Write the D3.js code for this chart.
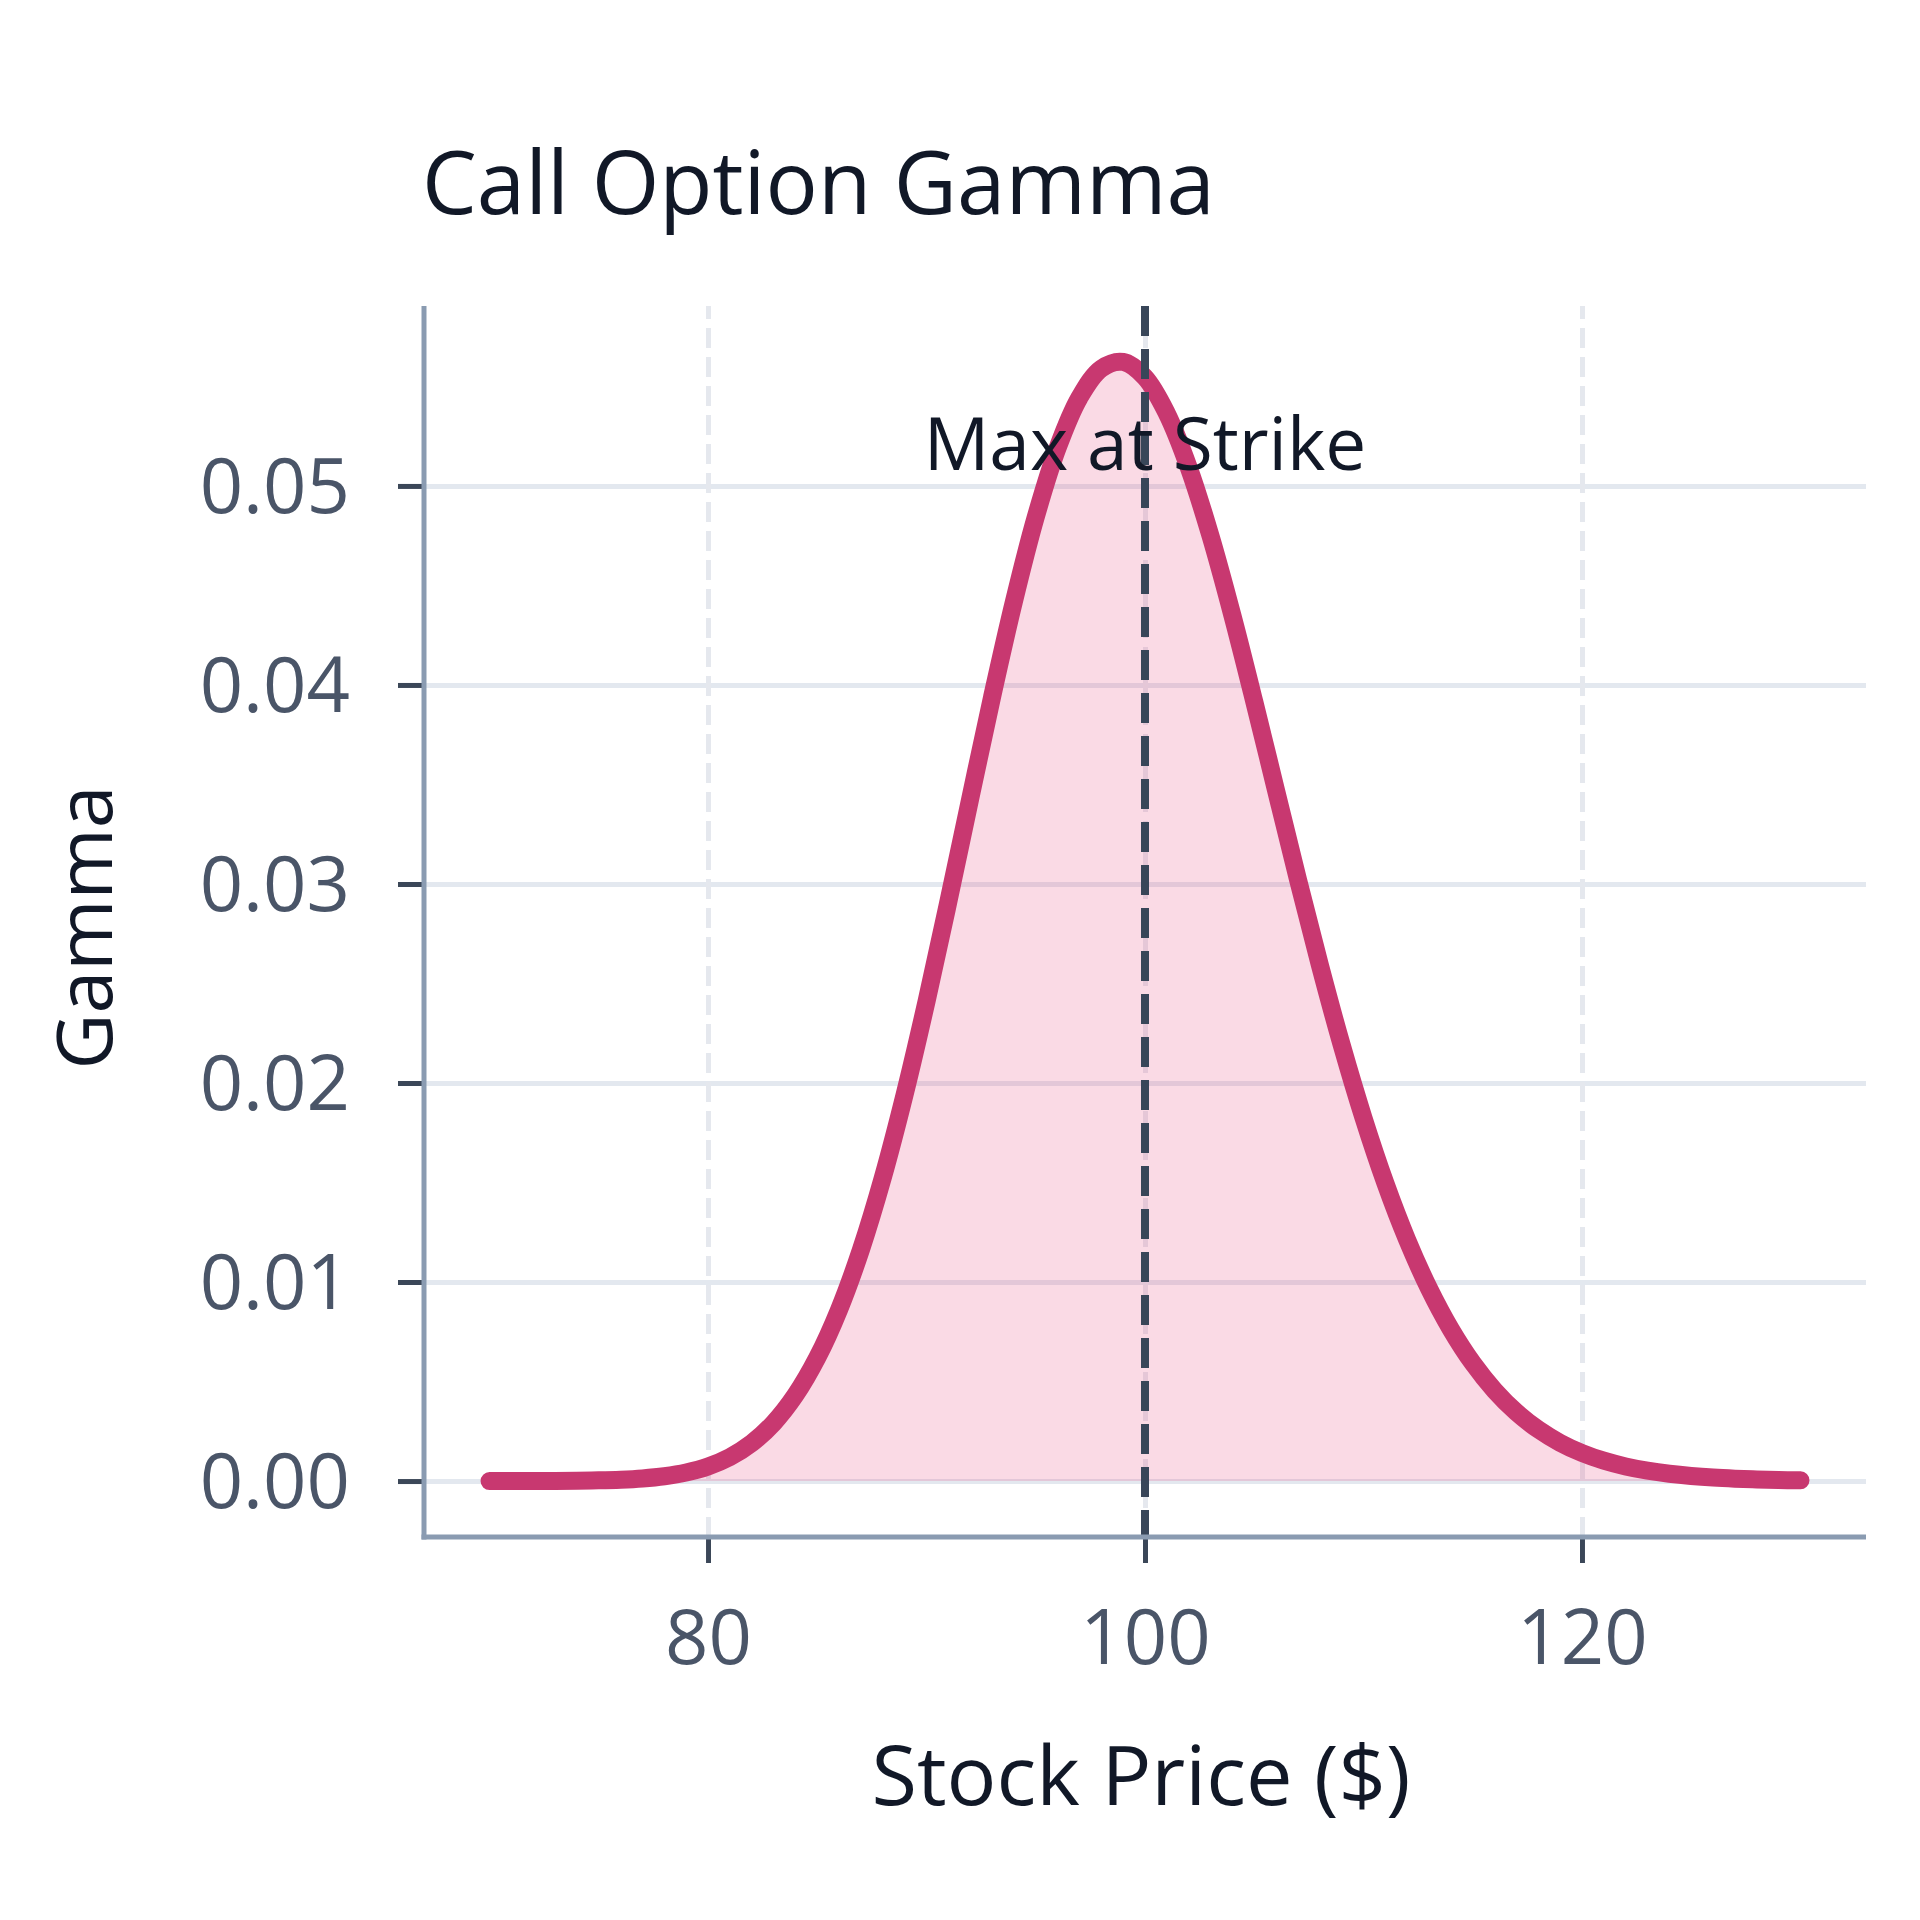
<!DOCTYPE html>
<html>
<head>
<meta charset="utf-8">
<script src="https://cdn.jsdelivr.net/npm/d3@7"></script>
<style>
  html, body { margin: 0; padding: 0; background: #ffffff; }
  svg { display: block; }
  text { font-family: "Open Sans", "Noto Sans", sans-serif; }
</style>
</head>
<body>
<script>
// ---- data ----
const stockPrices = d3.range(70, 131); // 70 .. 130
const gammaValues = [
  0.0000005, 0.0000013, 0.0000032, 0.0000075, 0.0000163, 0.0000342, 0.0000685, 0.0001315, 0.000242, 0.000429,
  0.000731, 0.001201, 0.001903, 0.002915, 0.004320, 0.006196, 0.008616, 0.011630, 0.015244, 0.019428,
  0.024096, 0.029111, 0.034283, 0.039392, 0.044189, 0.048437, 0.051913, 0.054439, 0.055897, 0.056230,
  0.055453, 0.053642, 0.050930, 0.047484, 0.043497, 0.039170, 0.034694, 0.030236, 0.025940, 0.021918,
  0.018249, 0.014976, 0.012119, 0.009675, 0.007623, 0.005928, 0.004553, 0.003455, 0.002592, 0.001921,
  0.001408, 0.001021, 0.000732, 0.000520, 0.000366, 0.000255, 0.000175, 0.000120, 0.000081, 0.000054,
  0.000036
];
const strikePrice = 100;
const xTickValues = [80, 100, 120];
const yTickValues = [0.00, 0.01, 0.02, 0.03, 0.04, 0.05];
const titleText = "Call Option Gamma";
const xLabelText = "Stock Price ($)";
const yLabelText = "Gamma";
const annotationText = "Max at Strike";

// ---- layout ----
const W = 1920, H = 1920;
const plot = { left: 424, right: 1866, top: 306, bottom: 1537 };
const lineColor = "#c83870";
const fillColor = "#e8457f";
const FONT = '"Open Sans", "Noto Sans", sans-serif';

const data = stockPrices.map((s, i) => ({ s, g: gammaValues[i] }));
const xMin = d3.min(stockPrices), xMax = d3.max(stockPrices);
const xPad = (xMax - xMin) * 0.05;
const gMax = d3.max(gammaValues), gMin = 0;
const yPad = (gMax - gMin) * 0.05;

const x = d3.scaleLinear().domain([xMin - xPad, xMax + xPad]).range([plot.left, plot.right]);
const y = d3.scaleLinear().domain([gMin - yPad, gMax + yPad]).range([plot.bottom, plot.top]);

const svg = d3.select("body").append("svg").attr("width", W).attr("height", H);
svg.append("rect").attr("width", W).attr("height", H).attr("fill", "#ffffff");

// grid
const yGrid = svg.append("g").attr("transform", `translate(${plot.left},0)`)
  .call(d3.axisLeft(y).tickValues(yTickValues).tickSize(-(plot.right - plot.left)).tickFormat(""));
yGrid.select(".domain").remove();
yGrid.selectAll("line").attr("stroke", "#e3e8ef").attr("stroke-width", 5);

const xGrid = svg.append("g").attr("transform", `translate(0,${plot.bottom})`)
  .call(d3.axisBottom(x).tickValues(xTickValues).tickSize(-(plot.bottom - plot.top)).tickFormat(""));
xGrid.select(".domain").remove();
xGrid.selectAll("line").attr("stroke", "#e5e8ee").attr("stroke-width", 5).attr("stroke-dasharray", "20,9");

const curve = d3.curveCatmullRom.alpha(0.5);

// area fill
svg.append("path").datum(data)
  .attr("d", d3.area().x(d => x(d.s)).y0(y(0)).y1(d => y(d.g)).curve(curve))
  .attr("fill", fillColor).attr("fill-opacity", 0.2);

// line
svg.append("path").datum(data)
  .attr("d", d3.line().x(d => x(d.s)).y(d => y(d.g)).curve(curve))
  .attr("fill", "none").attr("stroke", lineColor).attr("stroke-width", 18)
  .attr("stroke-linecap", "round").attr("stroke-linejoin", "round");

// strike line
svg.append("line")
  .attr("x1", x(strikePrice)).attr("x2", x(strikePrice))
  .attr("y1", plot.top).attr("y2", plot.bottom)
  .attr("stroke", "#384659").attr("stroke-width", 8).attr("stroke-dasharray", "30,13");

// axes
const yAxis = svg.append("g").attr("transform", `translate(${plot.left},0)`)
  .call(d3.axisLeft(y).tickValues(yTickValues).tickSize(26).tickPadding(48).tickFormat(d3.format(".2f")));
yAxis.select(".domain").remove();
yAxis.selectAll("line").attr("stroke", "#3b4758").attr("stroke-width", 5);
yAxis.selectAll("text").attr("font-size", 76).attr("fill", "#4a5568")
  .attr("font-family", FONT).attr("dy", "0.35em");

const xAxis = svg.append("g").attr("transform", `translate(0,${plot.bottom})`)
  .call(d3.axisBottom(x).tickValues(xTickValues).tickSize(26).tickPadding(47).tickFormat(d3.format("d")));
xAxis.select(".domain").remove();
xAxis.selectAll("line").attr("stroke", "#3b4758").attr("stroke-width", 5);
xAxis.selectAll("text").attr("font-size", 76).attr("fill", "#4a5568")
  .attr("font-family", FONT).attr("dy", "0.71em");

// spines
svg.append("line").attr("x1", plot.left).attr("x2", plot.left).attr("y1", plot.top).attr("y2", plot.bottom + 2.5)
  .attr("stroke", "#8a9bb1").attr("stroke-width", 5);
svg.append("line").attr("x1", plot.left - 2.5).attr("x2", plot.right).attr("y1", plot.bottom).attr("y2", plot.bottom)
  .attr("stroke", "#8a9bb1").attr("stroke-width", 5);

// annotation
svg.append("text").attr("x", x(strikePrice)).attr("y", y(gMax * 0.9) - 4)
  .attr("text-anchor", "middle").attr("font-size", 73).attr("fill", "#111827")
  .text(annotationText);

// title
svg.append("text").attr("x", plot.left - 2).attr("y", 214)
  .attr("font-size", 87).attr("fill", "#111827").text(titleText);

// axis labels
svg.append("text").attr("x", (plot.left + plot.right) / 2 - 4).attr("y", 1805)
  .attr("text-anchor", "middle").attr("font-size", 83).attr("fill", "#111827").text(xLabelText);
svg.append("text").attr("transform", `translate(112,${(plot.top + plot.bottom) / 2 + 6}) rotate(-90)`)
  .attr("text-anchor", "middle").attr("font-size", 77).attr("fill", "#111827").text(yLabelText);
</script>
</body>
</html>
